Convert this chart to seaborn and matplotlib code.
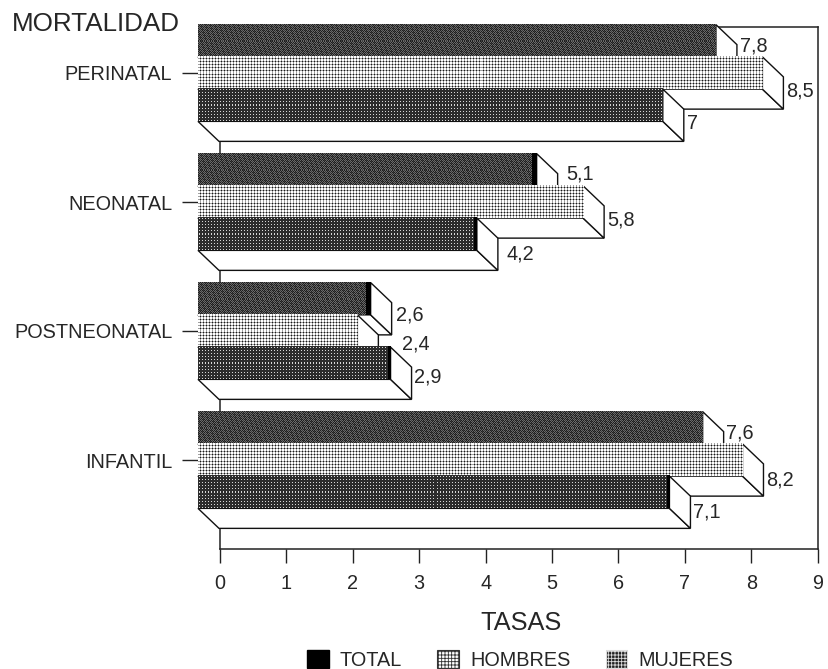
import numpy as np
import pandas as pd
import matplotlib
matplotlib.use('Agg')
import matplotlib.pyplot as plt
from matplotlib.patches import Polygon, Patch
import seaborn as sns

categorias = ['PERINATAL', 'NEONATAL', 'POSTNEONATAL', 'INFANTIL']
series = ['TOTAL', 'HOMBRES', 'MUJERES']
total = [7.8, 5.1, 2.6, 7.6]
hombres = [8.5, 5.8, 2.4, 8.2]
mujeres = [7.0, 4.2, 2.9, 7.1]
ticks_x = [0, 1, 2, 3, 4, 5, 6, 7, 8, 9]

# end of bar printed solid black in the scan
borde_total = [0, 1, 1, 0]
borde_mujeres = [0, 1, 1, 1]

W, H = 829, 669
PX_UNIT = 66.4
DX_PX, DY_PX = 21, 20
GROUP_PX = 129
TXT = '#262626'
FS = 14.3

sns.set_theme(style='white')
plt.rcParams['font.family'] = ['Liberation Sans', 'DejaVu Sans']
plt.rcParams['hatch.linewidth'] = 0.6


def fig_axes(fig, left, top, width, height):
    return fig.add_axes([left / W, 1 - (top + height) / H, width / W, height / H])


def textura(nombre, w, h, borde):
    i, j = np.indices((max(h, 1), max(w, 1)))
    if nombre == 'TOTAL':
        arr = np.where((i + j) % 2 == 0, 30, 105)
        arr[(i * 3 + j * 5) % 7 == 0] = 60
    elif nombre == 'HOMBRES':
        arr = np.where((i % 3 == 2) | (j % 3 == 2), 160, 255)
        arr[(i % 3 == 2) & (j % 3 == 2)] = 25
    else:
        arr = np.where((i % 3 == 1) & (j % 3 == 1), 215, 45)
    if borde:
        arr[:, -borde:] = 0
    return arr


df = pd.DataFrame({'cat': categorias, 'TOTAL': total, 'HOMBRES': hombres, 'MUJERES': mujeres})
df = df.melt(id_vars='cat', var_name='serie', value_name='tasa')

fig = plt.figure(figsize=(W / 100, H / 100), dpi=100, facecolor='white')

# back wall with the value axis
back = fig_axes(fig, 220, 27, 9 * PX_UNIT, 522)
back.set_xlim(0, 9)
back.set_ylim(0, 1)
back.set_yticks([])
back.set_xticks(ticks_x)
back.tick_params(axis='x', length=10, width=1, color='#222222', labelsize=FS, labelcolor=TXT, pad=8, bottom=True)
for s in back.spines.values():
    s.set_linewidth(1.1)
    s.set_color('#222222')
back.set_xlabel('TASAS', fontsize=18.3, color=TXT, va='center')
back.xaxis.set_label_coords(0.504, -0.142)

# front plane carrying the bars
ax = fig_axes(fig, 198, 73 - GROUP_PX / 2, 9 * PX_UNIT, 4 * GROUP_PX)
ax.patch.set_alpha(0)
sns.barplot(data=df, y='cat', x='tasa', hue='serie', hue_order=series, order=categorias,
            orient='h', palette=['#333333', '#cccccc', '#444444'], saturation=1,
            width=0.75, legend=False, ax=ax)
ax.set_xlim(0, 9)
ax.set_ylim(3.5, -0.5)
ax.set_xlabel('')
ax.set_ylabel('')
ax.set_xticks([])
sns.despine(ax=ax, left=True, bottom=True)
ax.tick_params(axis='y', left=True, length=11.5, width=1, color='#222222', labelsize=FS, labelcolor=TXT, pad=7)

dx = DX_PX / PX_UNIT
dy = DY_PX / GROUP_PX
# label nudges in pixels, keyed by (series, category)
nudge = {(0, 0): (0, -15), (0, 1): (6, -16), (0, 2): (2, -4), (0, 3): (0, -15),
         (1, 0): (0, -2), (1, 1): (0, -2), (1, 2): (21, -7),
         (2, 0): (0, -2), (2, 1): (6, 0), (2, 2): (0, -6)}

for s_i, cont in enumerate(ax.containers):
    z = 3 + s_i
    for c_i, bar in enumerate(cont):
        x1 = bar.get_x() + bar.get_width()
        y0 = bar.get_y()
        y1 = y0 + bar.get_height()
        side = [(x1, y0), (x1 + dx, y0 + dy), (x1 + dx, y1 + dy), (x1, y1)]
        floor = [(0, y1), (dx, y1 + dy), (x1 + dx, y1 + dy), (x1, y1)]
        for pts in (floor, side):
            ax.add_patch(Polygon(pts, closed=True, facecolor='white', edgecolor='#111111',
                                 linewidth=1, zorder=z, clip_on=False))
        if s_i == 0:
            borde = 5 * borde_total[c_i]
        elif s_i == 2:
            borde = 3 * borde_mujeres[c_i]
        else:
            borde = 0
        w_px = int(round(bar.get_width() * PX_UNIT))
        h_px = int(round(bar.get_height() * GROUP_PX))
        ax.imshow(textura(series[s_i], w_px, h_px, borde), cmap='gray', vmin=0, vmax=255,
                  extent=(0, x1, y1, y0), aspect='auto', interpolation='nearest', zorder=z + 0.1)
        nx, ny = nudge.get((s_i, c_i), (0, 0))
        ax.annotate(f'{bar.get_width():g}'.replace('.', ','), xy=(x1 + dx, (y0 + y1) / 2 + dy),
                    xytext=(2 + nx * 0.72, -ny * 0.72), textcoords='offset points',
                    fontsize=FS, color=TXT, va='center', ha='left', zorder=10,
                    annotation_clip=False)

ax.set_xlim(0, 9)
ax.set_ylim(3.5, -0.5)

fig.text(12 / W, 1 - 24 / H, 'MORTALIDAD', fontsize=18.7, color=TXT, va='center', ha='left')

handles = [Patch(facecolor='black', edgecolor='black'),
           Patch(facecolor='white', edgecolor='#333333', hatch='+++++', linewidth=0.8),
           Patch(facecolor='#222222', edgecolor='#dddddd', hatch='+++++', linewidth=0.8)]
fig.legend(handles, series, ncol=3, frameon=False, loc='center', bbox_to_anchor=(520 / W, 1 - 660 / H),
           fontsize=FS, labelcolor=TXT, handlelength=1.1, handleheight=1.0, handletextpad=0.56,
           columnspacing=1.77, borderpad=0)

fig.savefig('out.png', dpi=100)
